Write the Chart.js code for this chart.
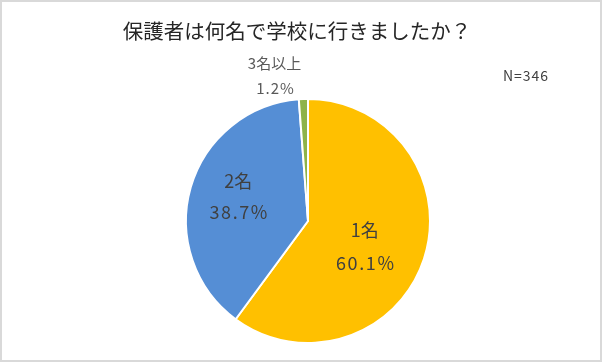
<!DOCTYPE html>
<html><head><meta charset="utf-8">
<script src="https://cdn.jsdelivr.net/npm/chart.js@4.4.0/dist/chart.umd.min.js"></script>
<style>html,body{margin:0;padding:0;background:#fff}#w{width:602px;height:362px;position:relative}</style>
</head><body><div id="w"><canvas id="c" width="602" height="362"></canvas></div>
<script>
const categories = ['1名', '2名', '3名以上'];
const values = [60.1, 38.7, 1.2];
const colors = ['#FFC000', '#558ED5', '#8EB34A'];
const titleText = '保護者は何名で学校に行きましたか？';
const noteText = 'N=346';

const FONT = '"Noto Sans CJK JP", "Noto Sans", sans-serif';
// radial factor and pixel nudges for each label (layout only)
const labelPlace = [
  {f:0.49, dx:0, dy:7, size:18, gap:16.5, color:'#404040'},
  {f:0.595, dx:0, dy:-4, size:18, gap:15.5, color:'#404040'},
  {f:1.2, dx:-28, dy:1.5, size:15, gap:12.5, color:'#595959'}
];

const deco = {
  id: 'deco',
  afterDraw(chart) {
    const ctx = chart.ctx;
    ctx.save();
    ctx.strokeStyle = '#d9d9d9';
    ctx.lineWidth = 2;
    ctx.strokeRect(1, 1, 600, 360);
    ctx.fillStyle = '#262626';
    ctx.textAlign = 'center';
    ctx.textBaseline = 'middle';
    ctx.font = '20.5px ' + FONT;
    ctx.fillText(titleText, 297, 31);
    ctx.fillStyle = '#404040';
    ctx.font = '14px ' + FONT;
    ctx.letterSpacing = '1px';
    ctx.fillText(noteText, 526, 76);
    const meta = chart.getDatasetMeta(0);
    meta.data.forEach((arc, i) => {
      const L = labelPlace[i];
      const p = arc.getProps(['x','y','startAngle','endAngle','outerRadius'], true);
      const a = (p.startAngle + p.endAngle) / 2;
      const r = p.outerRadius * L.f;
      const x = p.x + Math.cos(a) * r + L.dx;
      const y = p.y + Math.sin(a) * r + L.dy;
      ctx.font = L.size + 'px ' + FONT;
      ctx.fillStyle = L.color;
      ctx.letterSpacing = '0px';
      ctx.fillText(categories[i], x, y - L.gap);
      ctx.letterSpacing = (i === 2 ? '1px' : '1.6px');
      ctx.fillText(values[i].toFixed(1) + '%', x + 1, y + L.gap);
    });
    ctx.restore();
  }
};

new Chart(document.getElementById('c'), {
  type: 'pie',
  data: { labels: categories, datasets: [{ data: values, backgroundColor: colors, borderColor: '#ffffff', borderWidth: 2 }] },
  options: {
    responsive: false, animation: false,
    layout: { padding: { top: 98, bottom: 18, left: 185, right: 171 } },
    plugins: { legend: { display: false }, tooltip: { enabled: false }, title: { display: false } }
  },
  plugins: [deco]
});
</script></body></html>
